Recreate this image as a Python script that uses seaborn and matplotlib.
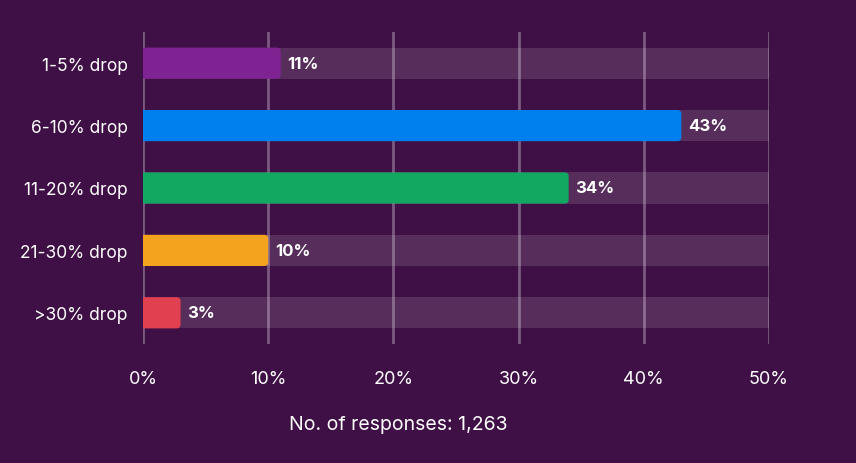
import numpy as np
import pandas as pd
import matplotlib
matplotlib.use('Agg')
import matplotlib.pyplot as plt
import seaborn as sns
from matplotlib.patches import FancyBboxPatch

categories = ['1-5% drop', '6-10% drop', '11-20% drop', '21-30% drop', '>30% drop']
values = [11, 43, 34, 10, 3]
colors = ['#7e2391', '#0080ee', '#12a862', '#f4a31f', '#e0404f']
track_max = 50
ticks = [0, 10, 20, 30, 40, 50]
n_responses = '1,263'

bg = '#3f1045'
sns.set_style('white')
plt.rcParams['font.family'] = ['Inter', 'DejaVu Sans']

df = pd.DataFrame({'cat': categories, 'val': values, 'track': [track_max] * len(values)})

fig = plt.figure(figsize=(8.56, 4.64), dpi=100, facecolor=bg)
ax = fig.add_axes([143/856, 1 - 345/464, (769 - 143)/856, (345 - 33)/464])
ax.set_facecolor(bg)

# background tracks
sns.barplot(data=df, x='track', y='cat', color='white', alpha=0.12, width=0.5,
            saturation=1, linewidth=0, ax=ax, orient='h', zorder=2)
n_track = len(ax.patches)

# value bars
sns.barplot(data=df, x='val', y='cat', hue='cat', palette=colors, width=0.5,
            saturation=1, linewidth=0, ax=ax, orient='h', legend=False, zorder=3)

ax.set_xlim(0, 50)
ax.set_ylim(4.5, -0.5)

# swap value bars for ones with rounded right corners (~4px radius);
# the left end is pushed past the axis edge and clipped so it stays square
for p in list(ax.patches[n_track:]):
    x0, y0, w, h = p.get_x(), p.get_y(), p.get_width(), p.get_height()
    fc = p.get_facecolor()
    p.remove()
    rb = FancyBboxPatch((x0 - 0.5, y0), w + 0.5, h, boxstyle='round,pad=0,rounding_size=0.32',
                        mutation_aspect=0.2, facecolor=fc, edgecolor='none', zorder=3)
    ax.add_patch(rb)
    ax.text(x0 + w + 0.55, y0 + h / 2, f'{w:.0f}%', va='center', ha='left',
            color='white', fontsize=12, fontweight='bold', zorder=4)

ax.set_xticks(ticks)
ax.set_xticklabels([f'{t}%' for t in ticks])
for t in ticks:
    ax.axvline(t, color='#7a5a80', lw=2, zorder=1)
ax.tick_params(axis='x', length=0, pad=19, labelsize=13, labelcolor='white')
ax.tick_params(axis='y', length=0, pad=11, labelsize=12.5, labelcolor='white')
ax.set_xlabel('')
ax.set_ylabel('')
for s in ax.spines.values():
    s.set_visible(False)

fig.text(398/856, 1 - 425/464, f'No. of responses: {n_responses}', ha='center', va='center',
         color='white', fontsize=14)

fig.savefig('out.png', dpi=100, facecolor=bg)
